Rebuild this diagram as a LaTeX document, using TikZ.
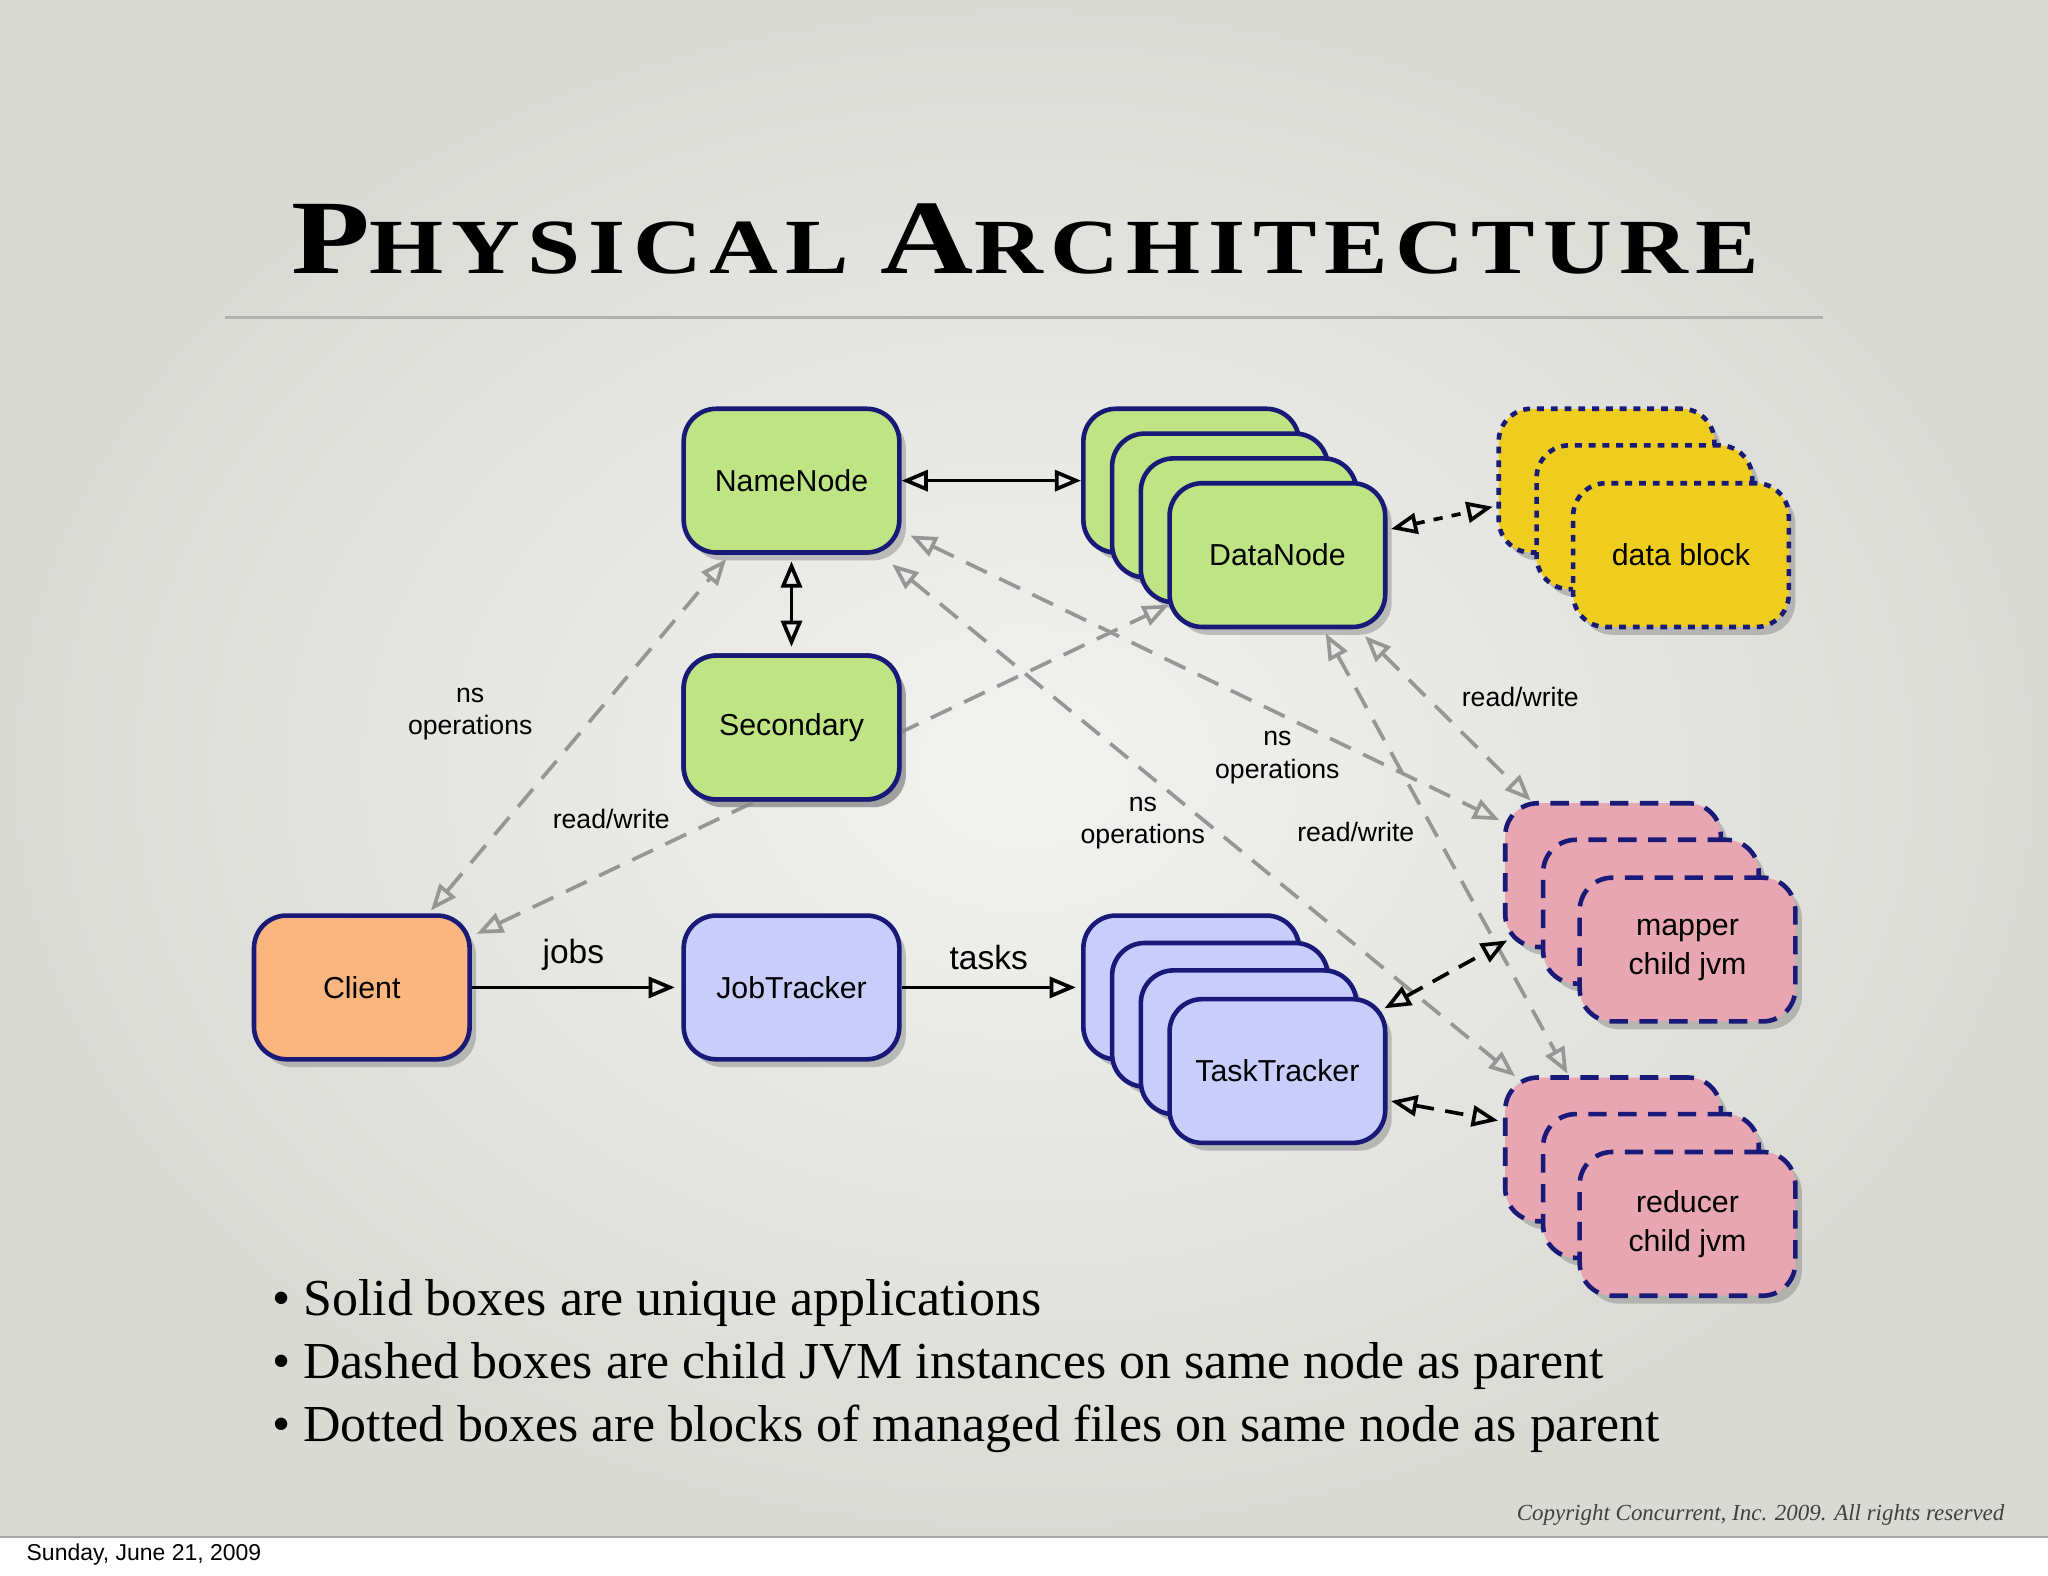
\documentclass[tikz,border=0pt]{standalone}
\usepackage{fontspec}
\setmainfont{Liberation Sans}
\newfontfamily\serifx{Liberation Serif}
\usetikzlibrary{arrows.meta,shadows}
\definecolor{navy}{RGB}{25,25,120}
\definecolor{gfill}{RGB}{190,228,132}
\definecolor{bfill}{RGB}{200,205,252}
\definecolor{ofill}{RGB}{251,181,127}
\definecolor{yfill}{RGB}{238,205,30}
\definecolor{pfill}{RGB}{232,165,178}
\definecolor{garrow}{RGB}{150,150,150}
\tikzset{
 box/.style={draw=navy,line width=1pt,rounded corners=0.25cm,minimum width=1.65cm,minimum height=1.1cm,align=center,
   font=\fontsize{6.6}{8.5}\selectfont,drop shadow={opacity=0.45,shadow xshift=0.05cm,shadow yshift=-0.06cm}},
 gbox/.style={box,fill=gfill},
 bbox/.style={box,fill=bfill},
 obox/.style={box,fill=ofill},
 ybox/.style={box,fill=yfill,dash pattern=on 1.5pt off 1.5pt},
 pbox/.style={box,fill=pfill,dash pattern=on 4pt off 2.5pt},
 blk/.style={line width=0.8pt,{Triangle[open,length=0.2cm,width=0.16cm]}-{Triangle[open,length=0.2cm,width=0.16cm]}},
 gry/.style={draw=garrow,line width=0.8pt,dash pattern=on 5pt off 3pt,{Triangle[open,length=0.2cm,width=0.16cm]}-{Triangle[open,length=0.2cm,width=0.16cm]}},
 lbl/.style={font=\fontsize{5.8}{7}\selectfont,align=center,text=black}
}
\begin{document}
\begin{tikzpicture}[x=0.01cm,y=-0.01cm]
\useasboundingbox (0,0) rectangle (1568,1206);
\fill[white] (0,0) rectangle (1568,1206);
\shade[inner color={rgb,255:red,242;green,242;blue,240},outer color={rgb,255:red,218;green,218;blue,213}] (0,0) rectangle (1568,1177);
\draw[gray!70,line width=0.4pt] (0,1177) -- (1568,1177);
\node[anchor=west,font=\fontsize{5}{6}\selectfont] (date) at (8,1190) {Sunday, June 21, 2009};
% title
\node (title) at (785,183) {\scalebox{1.22}[1]{\serifx\bfseries\addfontfeatures{LetterSpace=8}\fontsize{23}{26}\selectfont P\fontsize{17}{20}\selectfont HYSICAL \fontsize{23}{26}\selectfont A\fontsize{17}{20}\selectfont RCHITECTURE}};
\draw[gray!60,line width=0.5pt] (172,243) -- (1396,243);
% boxes
\node[gbox] (nn) at (606,368) {NameNode};
\node[gbox] (sec0) at (606,557) {};
\node[obox] (cl) at (277,756) {Client};
\node[bbox] (jt) at (606,756) {JobTracker};
\node[gbox] (dn1) at (912,368) {};
\node[gbox] (dn2) at (934,387) {};
\node[gbox] (dn3) at (956,406) {};
\node[gbox] (dn) at (978,425) {DataNode};
\node[bbox] (tt1) at (912,756) {};
\node[bbox] (tt2) at (934,777) {};
\node[bbox] (tt3) at (956,798) {};
\node[bbox] (tt) at (978,820) {TaskTracker};
\node[ybox] (db1) at (1230,368) {};
\node[ybox] (db2) at (1259,396) {};
\node[ybox] (db) at (1287,425) {data block};
\node[pbox] (mp1) at (1235,670) {};
\node[pbox] (mp2) at (1264,698) {};
\node[pbox] (mp) at (1292,727) {mapper\\child jvm};
\node[pbox] (rd1) at (1235,880) {};
\node[pbox] (rd2) at (1264,908) {};
\node[pbox] (rd) at (1292,937) {reducer\\child jvm};
% gray dashed connectors
\coordinate (a1) at (330,697); \coordinate (a2) at (556,428);
\coordinate (b1) at (365,715); \coordinate (b2) at (895,463);
\coordinate (c1) at (697,410); \coordinate (c2) at (1148,628);
\coordinate (d1) at (683,432); \coordinate (d2) at (1160,824);
\coordinate (e1) at (1045,487); \coordinate (e2) at (1172,613);
\coordinate (f1) at (1015,485); \coordinate (f2) at (1200,822);
\draw[gry] (a1) -- (a2);
\draw[gry] (b1) -- (b2);
\draw[gry] (c1) -- (c2);
\draw[gry] (d1) -- (d2);
\draw[gry] (e1) -- (e2);
\draw[gry] (f1) -- (f2);
\node[gbox] (sec) at (606,557) {Secondary};
% black connectors
\draw[blk] (nn.east) -- (dn1.west);
\draw[blk] ([yshift=-0.05cm]nn.south) -- ([yshift=0.05cm]sec.north);
\coordinate (i1) at (1065,405); \coordinate (i2) at (1143,388);
\draw[blk,dash pattern=on 2pt off 2pt] (i1) -- (i2);
\draw[line width=0.8pt,-{Triangle[open,length=0.2cm,width=0.16cm]}] (cl.east) -- node[above=0pt,font=\fontsize{7.3}{9}\selectfont]{jobs} ([xshift=-0.05cm]jt.west);
\draw[line width=0.8pt,-{Triangle[open,length=0.2cm,width=0.16cm]}] (jt.east) -- node[above=0pt,font=\fontsize{7.3}{9}\selectfont]{tasks} ([xshift=-0.04cm]tt1.west);
\coordinate (g1) at (1060,772); \coordinate (g2) at (1154,720);
\coordinate (h1) at (1065,843); \coordinate (h2) at (1147,858);
\draw[blk,dash pattern=on 4pt off 2.5pt] (g1) -- (g2);
\draw[blk,dash pattern=on 4pt off 2.5pt] (h1) -- (h2);
% labels
\node[lbl] (l1) at (360,547) {ns\\operations};
\node[lbl] (l2) at (468,627) {read/write};
\node[lbl] (l3) at (978,580) {ns\\operations};
\node[lbl] (l4) at (875,630) {ns\\operations};
\node[lbl] (l5) at (1164,534) {read/write};
\node[lbl] (l6) at (1038,637) {read/write};
% bullets
\begin{scope}[every node/.style={anchor=west,font=\serifx\fontsize{11.3}{13}\selectfont}]
\node (bl1) at (196,998) {\textbullet\ Solid boxes are unique applications};
\node (bl2) at (196,1046) {\textbullet\ Dashed boxes are child JVM instances on same node as parent};
\node (bl3) at (196,1094) {\textbullet\ Dotted boxes are blocks of managed files on same node as parent};
\end{scope}
\node[anchor=east,font=\serifx\itshape\fontsize{5}{6}\selectfont,text=black!75] (copy) at (1547,1160) {Copyright Concurrent, Inc. 2009. All rights reserved};
\end{tikzpicture}
\end{document}
